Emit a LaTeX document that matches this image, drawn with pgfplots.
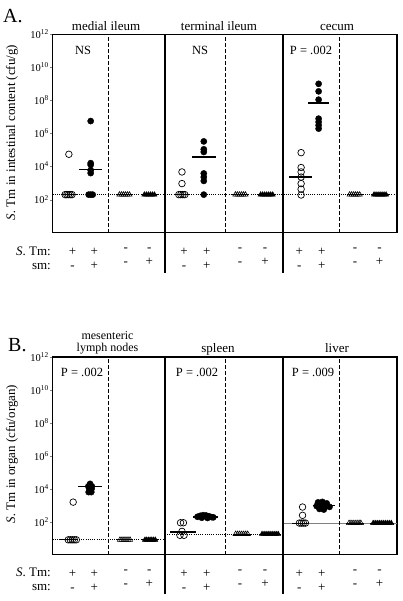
\documentclass[border=0pt]{standalone}
\usepackage{fontspec}
\setmainfont{Liberation Serif}
\usepackage{pgfplots}
\pgfplotsset{compat=1.18}
\pgfplotsset{
  myoc/.style={only marks, mark=o, mark size=3.3pt, mark options={line width=0.7pt}, black},
  myfc/.style={only marks, mark=*, mark size=3.1pt, black},
  myot/.style={only marks, mark=triangle, mark size=3pt, mark options={line width=0.6pt}, black},
  myft/.style={only marks, mark=triangle*, mark size=3pt, black},
  mymean/.style={black, line width=1.5pt, no marks},
  mybmean/.style={black, line width=0.9pt, no marks},
  mybase/.style={black, line width=0.7pt, dash pattern=on 1pt off 1.2pt, no marks},
}
\tikzset{
  mysep/.style={line width=1.2pt},
  mydsep/.style={line width=1.1pt, dash pattern=on 3.5pt off 2.5pt},
}
\begin{document}
\begin{tikzpicture}[x=1pt,y=1pt]
\useasboundingbox (0,0) rectangle (403,601);
% ---------------- Panel A ----------------
\begin{semilogyaxis}[
    at={(52.5pt,368.3pt)}, anchor=south west,
    scale only axis, width=344.5pt, height=198.5pt,
    xmin=0, xmax=12, ymin=1, ymax=1e12, clip=false,
    axis line style={line width=1.2pt},
    ytick={1e2,1e4,1e6,1e8,1e10,1e12},
    yticklabels={10\textsuperscript{2},10\textsuperscript{4},10\textsuperscript{6},10\textsuperscript{8},10\textsuperscript{10},10\textsuperscript{12}},
    yticklabel style={font=\fontsize{10.5}{10.5}\selectfont, inner sep=1pt},
    ytick pos=left, tick align=outside, major tick length=2.5pt,
    yminorticks=false,
    xtick={0.70,1.46,2.55,3.37,4.58,5.37,6.53,7.40,8.60,9.38,10.54,11.39},
    xticklabels={{+\\-},{+\\+},{-\\-},{-\\+},{+\\-},{+\\+},{-\\-},{-\\+},{+\\-},{+\\+},{-\\-},{-\\+}},
    xtick style={draw=none},
    xticklabel style={align=center, font=\fontsize{13}{14}\selectfont, inner sep=0pt, yshift=-13pt},
]
\addplot[mybase] coordinates {(0,200) (12,200)};
\addplot[mybmean] coordinates {(0.28,200) (0.86,200)};
\addplot[mybmean] coordinates {(2.25,200) (2.78,200)};
\addplot[mybmean] coordinates {(3.10,200) (3.66,200)};
\addplot[mybmean] coordinates {(4.25,200) (4.77,200)};
\addplot[mybmean] coordinates {(6.25,200) (6.85,200)};
\addplot[mybmean] coordinates {(7.15,200) (7.78,200)};
\addplot[mybmean] coordinates {(10.25,200) (10.80,200)};
\addplot[mybmean] coordinates {(11.10,200) (11.72,200)};
% medial ileum
\addplot[myoc] coordinates {(0.57,5.5e4) (0.44,200) (0.50,200) (0.56,200) (0.62,200) (0.68,200)};
\addplot[myfc] coordinates {(1.33,5.6e6) (1.33,1.6e4) (1.33,1.26e4) (1.33,6e3) (1.33,4e3) (1.26,200) (1.33,200) (1.40,200)};
\addplot[mymean] coordinates {(0.92,6.6e3) (1.72,6.6e3)};
\addplot[myot] coordinates {(2.33,200) (2.40,200) (2.47,200) (2.54,200) (2.61,200) (2.68,200)};
\addplot[myft] coordinates {(3.20,200) (3.27,200) (3.34,200) (3.41,200) (3.48,200) (3.55,200)};
% terminal ileum
\addplot[myoc] coordinates {(4.51,4.7e3) (4.51,930) (4.40,200) (4.47,200) (4.54,200) (4.61,200)};
\addplot[myfc] coordinates {(5.27,3.3e5) (5.27,1.1e5) (5.27,7.6e4) (5.27,3.8e3) (5.27,2.3e3) (5.27,1.35e3) (5.27,200)};
\addplot[mymean] coordinates {(4.86,3.8e4) (5.69,3.8e4)};
\addplot[myot] coordinates {(6.37,200) (6.44,200) (6.51,200) (6.58,200) (6.65,200) (6.72,200)};
\addplot[myft] coordinates {(7.25,200) (7.32,200) (7.39,200) (7.46,200) (7.53,200) (7.60,200) (7.67,200)};
% cecum
\addplot[myoc] coordinates {(8.66,6.9e4) (8.66,8.7e3) (8.66,4.7e3) (8.66,2.3e3) (8.66,930) (8.66,430) (8.66,190)};
\addplot[mymean] coordinates {(8.24,2.3e3) (9.04,2.3e3)};
\addplot[myfc] coordinates {(9.27,1e9) (9.27,3.5e8) (9.27,1.1e8) (9.27,7.8e6) (9.27,4.9e6) (9.27,3.1e6) (9.27,1.95e6)};
\addplot[mymean] coordinates {(8.90,6.8e7) (9.63,6.8e7)};
\addplot[myot] coordinates {(10.35,200) (10.42,200) (10.49,200) (10.56,200) (10.63,200) (10.70,200)};
\addplot[myft] coordinates {(11.20,200) (11.27,200) (11.34,200) (11.41,200) (11.48,200) (11.55,200) (11.62,200)};
% separators
\draw[mysep] (axis cs:3.92,1e12) -- ([yshift=-40pt]axis cs:3.92,1);
\draw[mysep] (axis cs:8.03,1e12) -- ([yshift=-40pt]axis cs:8.03,1);
\draw[mydsep] (axis cs:1.94,1) -- (axis cs:1.94,1e12);
\draw[mydsep] (axis cs:6.02,1) -- (axis cs:6.02,1e12);
\draw[mydsep] (axis cs:10.01,1) -- (axis cs:10.01,1e12);
\end{semilogyaxis}
% ---------------- Panel B ----------------
\begin{semilogyaxis}[
    at={(52.5pt,46.3pt)}, anchor=south west,
    scale only axis, width=344.5pt, height=197.7pt,
    xmin=0, xmax=12, ymin=1, ymax=1e12, clip=false,
    axis line style={line width=1.2pt},
    ytick={1e2,1e4,1e6,1e8,1e10,1e12},
    yticklabels={10\textsuperscript{2},10\textsuperscript{4},10\textsuperscript{6},10\textsuperscript{8},10\textsuperscript{10},10\textsuperscript{12}},
    yticklabel style={font=\fontsize{10.5}{10.5}\selectfont, inner sep=1pt},
    ytick pos=left, tick align=outside, major tick length=2.5pt,
    yminorticks=false,
    xtick={0.70,1.46,2.55,3.37,4.58,5.37,6.53,7.40,8.60,9.38,10.54,11.39},
    xticklabels={{+\\-},{+\\+},{-\\-},{-\\+},{+\\-},{+\\+},{-\\-},{-\\+},{+\\-},{+\\+},{-\\-},{-\\+}},
    xtick style={draw=none},
    xticklabel style={align=center, font=\fontsize{13}{14}\selectfont, inner sep=0pt, yshift=-13pt},
]
\addplot[mybase] coordinates {(0,8) (3.92,8)};
\addplot[mybase] coordinates {(3.92,18) (8.03,18)};
\addplot[gray, line width=0.8pt, no marks] coordinates {(8.03,83) (12,83)};
\addplot[mybmean] coordinates {(0.22,8) (0.88,8)};
\addplot[mybmean] coordinates {(2.25,8) (2.80,8)};
\addplot[mybmean] coordinates {(3.12,8) (3.68,8)};
\addplot[mybmean] coordinates {(6.28,18) (6.90,18)};
\addplot[mybmean] coordinates {(7.20,18) (7.96,18)};
\addplot[mybmean] coordinates {(8.35,83) (8.95,83)};
\addplot[mybmean] coordinates {(10.22,83) (10.85,83)};
\addplot[mybmean] coordinates {(11.06,83) (11.90,83)};
% mesenteric lymph nodes
\addplot[myoc] coordinates {(0.72,1.55e3) (0.55,8) (0.62,8) (0.69,8) (0.76,8) (0.83,8)};
\addplot[myfc] coordinates {(1.31,2e4) (1.25,1.4e4) (1.37,1.4e4) (1.28,1.05e4) (1.36,1e4) (1.31,7.5e3) (1.26,6.3e3) (1.35,6.3e3)};
\addplot[mymean] coordinates {(0.89,1.4e4) (1.72,1.4e4)};
\addplot[myot] coordinates {(2.35,8) (2.42,8) (2.49,8) (2.56,8) (2.63,8) (2.70,8)};
\addplot[myft] coordinates {(3.22,8) (3.28,8) (3.34,8) (3.40,8) (3.46,8) (3.52,8) (3.58,8)};
% spleen
\addplot[myoc] coordinates {(4.46,87) (4.56,87) (4.51,26) (4.44,15) (4.58,15)};
\addplot[mymean] coordinates {(4.09,24) (5.00,24)};
\addplot[myfc] coordinates {(5.05,200) (5.15,230) (5.25,250) (5.35,240) (5.45,215) (5.55,190) (5.20,175) (5.40,170) (5.60,185)};
\addplot[mymean] coordinates {(4.90,190) (5.75,190)};
\addplot[myot] coordinates {(6.38,18) (6.45,18) (6.52,18) (6.59,18) (6.66,18) (6.73,18) (6.80,18)};
\addplot[myft] coordinates {(7.30,18) (7.37,18) (7.44,18) (7.51,18) (7.58,18) (7.65,18) (7.72,18) (7.79,18) (7.86,18)};
% liver
\addplot[myoc] coordinates {(8.71,780) (8.71,245) (8.60,83) (8.67,83) (8.74,83) (8.81,83)};
\addplot[myfc] coordinates {(9.25,1.5e3) (9.40,1.6e3) (9.55,1.3e3) (9.20,900) (9.35,950) (9.50,850) (9.65,800) (9.30,600) (9.45,550)};
\addplot[mymean] coordinates {(9.06,980) (9.84,980)};
\addplot[myot] coordinates {(10.33,83) (10.40,83) (10.47,83) (10.54,83) (10.61,83) (10.68,83) (10.74,83)};
\addplot[myft] coordinates {(11.17,83) (11.24,83) (11.31,83) (11.38,83) (11.45,83) (11.52,83) (11.59,83) (11.66,83) (11.73,83) (11.80,83)};
% separators
\draw[mysep] (axis cs:3.92,1e12) -- ([yshift=-39pt]axis cs:3.92,1);
\draw[mysep] (axis cs:8.03,1e12) -- ([yshift=-39pt]axis cs:8.03,1);
\draw[mydsep] (axis cs:1.94,1) -- (axis cs:1.94,1e12);
\draw[mydsep] (axis cs:6.02,1) -- (axis cs:6.02,1e12);
\draw[mydsep] (axis cs:10.01,1) -- (axis cs:10.01,1e12);
\end{semilogyaxis}
% ---------------- texts ----------------
\begin{scope}[every node/.style={font=\fontsize{13}{14}\selectfont, inner sep=0pt}]
\node[anchor=base west, font=\fontsize{20}{20}\selectfont] at (3,578.3) {A.};
\node[anchor=base west, font=\fontsize{20}{20}\selectfont] at (8,249.3) {B.};
\node[anchor=base] at (106,570.3) {medial ileum};
\node[anchor=base] at (219,570.3) {terminal ileum};
\node[anchor=base] at (337,570.3) {cecum};
\node[anchor=base, font=\fontsize{12}{12}\selectfont] at (107.5,261) {mesenteric};
\node[anchor=base, font=\fontsize{12}{12}\selectfont] at (107.5,249) {lymph nodes};
\node[anchor=base] at (218,248.7) {spleen};
\node[anchor=base] at (337,248.7) {liver};
\node[font=\fontsize{12.5}{13}\selectfont] at (83,551) {NS};
\node[font=\fontsize{12.5}{13}\selectfont] at (200,551) {NS};
\node[font=\fontsize{12.5}{13}\selectfont] at (311,551) {P = .002};
\node[font=\fontsize{12.5}{13}\selectfont] at (82,229) {P = .002};
\node[font=\fontsize{12.5}{13}\selectfont] at (197,229) {P = .002};
\node[font=\fontsize{12.5}{13}\selectfont] at (313,229) {P = .009};
\node[rotate=90] at (12,468.5) {\textit{S.} Tm in intestinal content (cfu/g)};
\node[rotate=90] at (12,147) {\textit{S.} Tm in organ (cfu/organ)};
\node[anchor=base east] at (51,345) {\textit{S}. Tm:};
\node[anchor=base east] at (51,331) {sm:};
\node[anchor=base east] at (51,24) {\textit{S}. Tm:};
\node[anchor=base east] at (51,10.5) {sm:};
\end{scope}
\end{tikzpicture}
\end{document}
